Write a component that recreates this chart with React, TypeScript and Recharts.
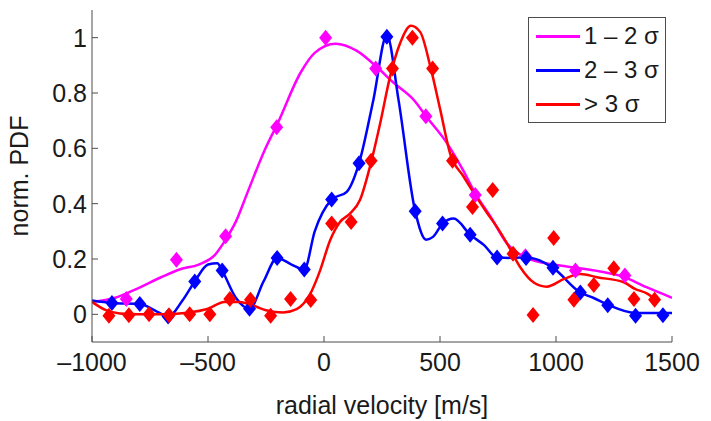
import React from 'react';
import { ComposedChart, Line, Scatter, XAxis, YAxis, Legend } from 'recharts';

const FONT = '"Liberation Sans", Arial, Helvetica, sans-serif';
const AXIS = '#4d4d4d';

const xTicks = [-1000, -500, 0, 500, 1000, 1500];
const yTicks = [0, 0.2, 0.4, 0.6, 0.8, 1];

const seriesNames = ['1 \u2013 2 \u03c3', '2 \u2013 3 \u03c3', '> 3 \u03c3'];
const seriesColors = ['#ff00ff', '#0000ff', '#ff0000'];

// measured bins (diamonds)
const lowPoints = [
  { x: -852, y: 0.055 }, { x: -636, y: 0.197 }, { x: -424, y: 0.282 }, { x: -204, y: 0.676 },
  { x: 7, y: 1.0 }, { x: 223, y: 0.889 }, { x: 439, y: 0.716 }, { x: 652, y: 0.431 },
  { x: 868, y: 0.21 }, { x: 1084, y: 0.158 }, { x: 1297, y: 0.14 },
];
const midPoints = [
  { x: -914, y: 0.041 }, { x: -794, y: 0.037 }, { x: -672, y: -0.008 }, { x: -557, y: 0.119 },
  { x: -439, y: 0.158 }, { x: -321, y: 0.02 }, { x: -202, y: 0.204 }, { x: -85, y: 0.162 },
  { x: 33, y: 0.415 }, { x: 151, y: 0.546 }, { x: 271, y: 1.003 }, { x: 393, y: 0.373 },
  { x: 511, y: 0.328 }, { x: 630, y: 0.288 }, { x: 746, y: 0.205 }, { x: 871, y: 0.204 },
  { x: 987, y: 0.168 }, { x: 1105, y: 0.079 }, { x: 1223, y: 0.033 }, { x: 1343, y: -0.005 },
  { x: 1461, y: -0.003 },
];
const highPoints = [
  { x: -927, y: -0.005 }, { x: -841, y: -0.003 }, { x: -754, y: 0 }, { x: -668, y: -0.003 },
  { x: -579, y: 0 }, { x: -492, y: 0 }, { x: -406, y: 0.055 }, { x: -317, y: 0.053 },
  { x: -230, y: -0.005 }, { x: -144, y: 0.055 }, { x: -57, y: 0.052 }, { x: 33, y: 0.328 },
  { x: 117, y: 0.334 }, { x: 203, y: 0.555 }, { x: 295, y: 0.889 }, { x: 381, y: 1.0 },
  { x: 468, y: 0.889 }, { x: 554, y: 0.555 }, { x: 640, y: 0.388 }, { x: 727, y: 0.449 },
  { x: 815, y: 0.219 }, { x: 901, y: -0.002 }, { x: 990, y: 0.276 }, { x: 1077, y: 0.053 },
  { x: 1163, y: 0.106 }, { x: 1249, y: 0.167 }, { x: 1336, y: 0.055 }, { x: 1425, y: 0.053 },
];

// smoothed curves
const lowCurve = [
  { x: -1000, y: 0.045 }, { x: -900, y: 0.06 }, { x: -800, y: 0.095 }, { x: -700, y: 0.135 },
  { x: -620, y: 0.163 }, { x: -540, y: 0.18 }, { x: -470, y: 0.215 }, { x: -424, y: 0.27 },
  { x: -380, y: 0.335 }, { x: -330, y: 0.44 }, { x: -255, y: 0.595 }, { x: -200, y: 0.69 },
  { x: -100, y: 0.875 }, { x: -40, y: 0.945 }, { x: 50, y: 0.978 }, { x: 140, y: 0.953 },
  { x: 230, y: 0.892 }, { x: 300, y: 0.837 }, { x: 390, y: 0.772 }, { x: 440, y: 0.716 },
  { x: 530, y: 0.619 }, { x: 600, y: 0.52 }, { x: 650, y: 0.44 }, { x: 720, y: 0.35 },
  { x: 790, y: 0.255 }, { x: 870, y: 0.205 }, { x: 990, y: 0.18 }, { x: 1090, y: 0.168 },
  { x: 1190, y: 0.155 }, { x: 1290, y: 0.136 }, { x: 1390, y: 0.098 }, { x: 1500, y: 0.06 },
];
const midCurve = [
  { x: -1000, y: 0.05 }, { x: -914, y: 0.041 }, { x: -794, y: 0.037 }, { x: -720, y: 0.01 },
  { x: -672, y: -0.008 }, { x: -610, y: 0.05 }, { x: -557, y: 0.119 }, { x: -500, y: 0.18 },
  { x: -460, y: 0.185 }, { x: -439, y: 0.158 }, { x: -380, y: 0.06 }, { x: -321, y: 0.02 },
  { x: -260, y: 0.12 }, { x: -202, y: 0.204 }, { x: -140, y: 0.18 }, { x: -85, y: 0.162 },
  { x: -40, y: 0.3 }, { x: 33, y: 0.415 }, { x: 98, y: 0.443 }, { x: 151, y: 0.546 },
  { x: 213, y: 0.776 }, { x: 271, y: 1.01 }, { x: 321, y: 0.776 }, { x: 393, y: 0.373 },
  { x: 440, y: 0.27 }, { x: 470, y: 0.28 }, { x: 511, y: 0.328 }, { x: 559, y: 0.346 },
  { x: 630, y: 0.288 }, { x: 690, y: 0.25 }, { x: 746, y: 0.205 }, { x: 817, y: 0.204 },
  { x: 871, y: 0.206 }, { x: 987, y: 0.168 }, { x: 1105, y: 0.079 }, { x: 1160, y: 0.06 },
  { x: 1223, y: 0.035 }, { x: 1343, y: 0.005 }, { x: 1461, y: 0.005 }, { x: 1500, y: 0.005 },
];
const highCurve = [
  { x: -1000, y: 0.045 }, { x: -940, y: 0.015 }, { x: -880, y: 0.003 }, { x: -800, y: 0.0 },
  { x: -700, y: 0.0 }, { x: -600, y: 0.005 }, { x: -500, y: 0.02 }, { x: -430, y: 0.045 },
  { x: -363, y: 0.045 }, { x: -300, y: 0.03 }, { x: -250, y: 0.015 }, { x: -176, y: 0.007 },
  { x: -118, y: 0.019 }, { x: -60, y: 0.073 }, { x: -17, y: 0.158 }, { x: 26, y: 0.267 },
  { x: 69, y: 0.334 }, { x: 112, y: 0.364 }, { x: 155, y: 0.413 }, { x: 200, y: 0.54 },
  { x: 242, y: 0.69 }, { x: 285, y: 0.86 }, { x: 328, y: 0.98 }, { x: 375, y: 1.043 },
  { x: 415, y: 1.02 }, { x: 458, y: 0.897 }, { x: 501, y: 0.74 }, { x: 544, y: 0.58 },
  { x: 600, y: 0.5 }, { x: 645, y: 0.44 }, { x: 700, y: 0.37 }, { x: 750, y: 0.31 },
  { x: 790, y: 0.255 }, { x: 846, y: 0.17 }, { x: 904, y: 0.115 }, { x: 960, y: 0.1 },
  { x: 1035, y: 0.128 }, { x: 1105, y: 0.146 }, { x: 1177, y: 0.134 }, { x: 1292, y: 0.116 },
  { x: 1340, y: 0.092 }, { x: 1393, y: 0.075 }, { x: 1440, y: 0.045 },
];

const Diamond = (props: any) => {
  const { cx, cy, fill } = props;
  if (cx == null || cy == null) return null;
  return <path d={`M${cx},${cy - 8} L${cx + 6.5},${cy} L${cx},${cy + 8} L${cx - 6.5},${cy} Z`} fill={fill} />;
};

const BottomTick = (props: any) => {
  const { x, y, payload } = props;
  const v = payload.value;
  const label = v < 0 ? `\u2013${Math.abs(v)}` : `${v}`;
  return (
    <g>
      <line x1={x} y1={y} x2={x} y2={y - 6} stroke={AXIS} />
      <text x={x} y={y + 29} textAnchor="middle" fontSize={25} fontFamily={FONT} fill="#1a1a1a">{label}</text>
    </g>
  );
};

const LeftTick = (props: any) => {
  const { x, y, payload } = props;
  return (
    <g>
      <line x1={x} y1={y} x2={x + 6} y2={y} stroke={AXIS} />
      <text x={x - 5} y={y + 9} textAnchor="end" fontSize={25} fontFamily={FONT} fill="#1a1a1a">{payload.value}</text>
    </g>
  );
};

const TopTick = (props: any) => (
  <line x1={props.x} y1={props.y} x2={props.x} y2={props.y + 6} stroke={AXIS} />
);

const RightTick = (props: any) => (
  <line x1={props.x} y1={props.y} x2={props.x - 6} y2={props.y} stroke={AXIS} />
);

const LegendBox = () => (
  <div style={{ width: 136, height: 104, border: `1px solid ${AXIS}`, background: '#fff', fontFamily: FONT, fontSize: 24, color: '#1a1a1a' }}>
    {seriesNames.map((name, i) => (
      <div key={name} style={{ position: 'absolute', left: 8, top: 4 + i * 34, height: 30, display: 'flex', alignItems: 'center', whiteSpace: 'nowrap' }}>
        <span style={{ display: 'inline-block', width: 44, height: 3, background: seriesColors[i], marginRight: 4 }} />
        <span>{name}</span>
      </div>
    ))}
  </div>
);

export default function App() {
  const curves = [lowCurve, midCurve, highCurve];
  const points = [lowPoints, midPoints, highPoints];
  return (
    <div style={{ position: 'absolute', left: 0, top: 0, width: 711, height: 421, background: '#fff' }}>
      <ComposedChart width={711} height={421} margin={{ top: 10, right: 39, bottom: 0, left: 0 }}>
        <XAxis dataKey="x" type="number" domain={[-1000, 1500]} ticks={xTicks} allowDataOverflow
          height={79} tickSize={0} tickMargin={0} tick={BottomTick} tickLine={false}
          axisLine={{ stroke: AXIS }} interval={0} />
        <XAxis xAxisId="top" orientation="top" dataKey="x" type="number" domain={[-1000, 1500]} ticks={xTicks}
          allowDataOverflow height={0} tickSize={0} tickMargin={0} tick={TopTick} tickLine={false}
          axisLine={{ stroke: AXIS }} interval={0} />
        <YAxis dataKey="y" type="number" domain={[-0.1, 1.1]} ticks={yTicks} allowDataOverflow
          width={92} tickSize={0} tickMargin={0} tick={LeftTick} tickLine={false}
          axisLine={{ stroke: AXIS }} interval={0}
          label={{ value: 'norm. PDF', angle: -90, position: 'insideLeft', dx: 14, fontSize: 25, fontFamily: FONT, fill: '#1a1a1a', style: { textAnchor: 'middle' } }} />
        <YAxis yAxisId="right" orientation="right" dataKey="y" type="number" domain={[-0.1, 1.1]} ticks={yTicks}
          allowDataOverflow width={0} tickSize={0} tickMargin={0} tick={RightTick} tickLine={false}
          axisLine={{ stroke: AXIS }} interval={0} />
        {seriesNames.map((name, i) => (
          <React.Fragment key={name}>
            <Line data={curves[i]} dataKey="y" name={name} type="monotone" stroke={seriesColors[i]}
              strokeWidth={2.5} dot={false} activeDot={false} isAnimationActive={false} />
            <Scatter data={points[i]} dataKey="y" name={name} fill={seriesColors[i]} shape={Diamond}
              legendType="none" isAnimationActive={false} />
          </React.Fragment>
        ))}
        <Legend layout="vertical" align="center" verticalAlign="middle" content={LegendBox}
          wrapperStyle={{ position: 'absolute', left: 528, top: 17, width: 138, height: 106 }} />
        <text x={382} y={414} textAnchor="middle" fontSize={25} fontFamily={FONT} fill="#1a1a1a">radial velocity [m/s]</text>
      </ComposedChart>
    </div>
  );
}
